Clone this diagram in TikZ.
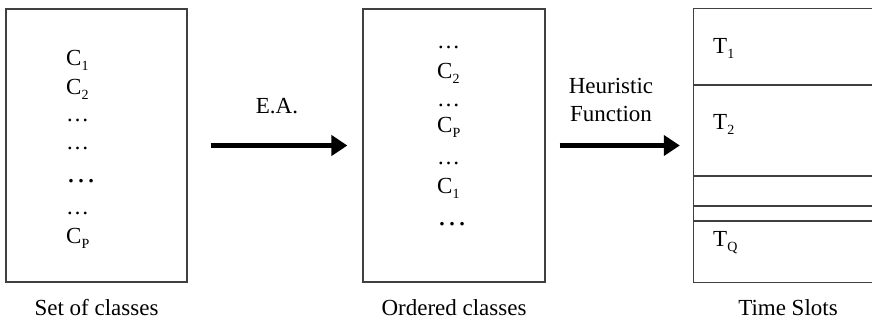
\documentclass[tikz,border=0pt]{standalone}
\usepackage{fontspec}
\setmainfont{Liberation Serif}
\usetikzlibrary{arrows.meta}
\newcommand\subx[1]{\raisebox{-0.22em}[\height][0pt]{\fontsize{14}{14}\selectfont #1}}
\newcommand\bigdots{{\fontsize{30}{30}\selectfont …}}
\begin{document}
\begin{tikzpicture}[x=1pt,y=-1pt,
  txt/.style={font=\fontsize{23}{27}\selectfont, inner sep=0pt},
  line/.style={anchor=base west, txt},
  box/.style={draw=black!75, line width=1.2pt, inner sep=0pt},
  bigarrow/.style={line width=5pt, -{Triangle[length=16pt,width=20pt]}}]
\useasboundingbox (0,0) rectangle (872,325);
% boxes
\node (b1) [box, minimum width=181pt, minimum height=273pt] at (96.5,145.5) {};
\node (b2) [box, minimum width=182pt, minimum height=273pt] at (454,145.5) {};
\node (b3) [inner sep=0pt, minimum width=178pt, minimum height=273pt] at (783,145.5) {};
\draw[black!75, line width=1.2pt] (b3.north east) -- (b3.north west) -- (b3.south west) -- (b3.south east);
\coordinate (h1a) at (694,85);  \coordinate (h1b) at (872,85);
\coordinate (h2a) at (694,176); \coordinate (h2b) at (872,176);
\coordinate (h3a) at (694,206); \coordinate (h3b) at (872,206);
\coordinate (h4a) at (694,221); \coordinate (h4b) at (872,221);
\draw[black!75, line width=1.2pt] (h1a) -- (h1b) (h2a) -- (h2b) (h3a) -- (h3b) (h4a) -- (h4b);
% left column
\node (l1) [line] at (66,65) {C\subx{1}};
\node (l2) [line] at (66,94) {C\subx{2}};
\node (l3) [line] at (66,121) {…};
\node (l4) [line] at (66,149) {…};
\node (l5) [line] at (66,182) {\bigdots};
\node (l6) [line] at (66,214) {…};
\node (l7) [line] at (66,243) {C\subx{P}};
% middle column
\node (m1) [line] at (437,48) {…};
\node (m2) [line] at (437,78) {C\subx{2}};
\node (m3) [line] at (437,106) {…};
\node (m4) [line] at (437,132) {C\subx{P}};
\node (m5) [line] at (437,164) {…};
\node (m6) [line] at (437,193) {C\subx{1}};
\node (m7) [line] at (437,225) {\bigdots};
% right column
\node (t1) [line] at (713,53) {T\subx{1}};
\node (t2) [line] at (713,129) {T\subx{2}};
\node (tq) [line] at (713,246) {T\subx{Q}};
% captions
\node (c1) [txt, anchor=base] at (96.5,315) {Set of classes};
\node (c2) [txt, anchor=base] at (454,315) {Ordered classes};
\node (c3) [txt, anchor=base] at (788,315) {Time Slots};
% arrows
\draw[bigarrow, shorten <=23pt, shorten >=15pt] (b1.east) -- (b2.west);
\draw[bigarrow, shorten <=14pt, shorten >=14pt] (b2.east) -- (b3.west);
\node (ea) [txt] at (277,106) {E.A.};
\node (hf1) [txt] at (611,86) {Heuristic};
\node (hf2) [txt] at (611,114) {Function};
\end{tikzpicture}
\end{document}
